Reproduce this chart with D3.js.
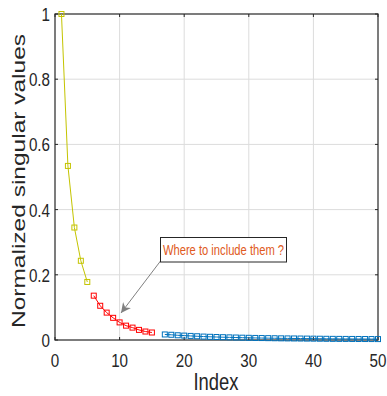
<!DOCTYPE html>
<html>
<head>
<meta charset="utf-8">
<script src="https://cdn.jsdelivr.net/npm/d3@7"></script>
<style>
  body { margin: 0; background: #fff; }
  text { font-family: "Liberation Sans", Arial, sans-serif; fill: #262626; }
</style>
</head>
<body>
<div id="chart"></div>
<script>
// singular values split in three groups
const yellowIdx = [1, 2, 3, 4, 5];
const yellowVals = [1.0, 0.534, 0.345, 0.243, 0.178];

const redIdx = [6, 7, 8, 9, 10, 11, 12, 13, 14, 15];
const redVals = [0.136, 0.105, 0.084, 0.068, 0.054, 0.044, 0.038, 0.031, 0.026, 0.023];

const blueIdx = d3.range(17, 51);
const blueVals = [0.017, 0.016, 0.0145, 0.0135, 0.0125, 0.0115, 0.0105, 0.0098, 0.0092, 0.0086,
  0.0081, 0.0076, 0.0071, 0.0067, 0.0063, 0.0060, 0.0057, 0.0054, 0.0051, 0.0049,
  0.0047, 0.0045, 0.0043, 0.0041, 0.0039, 0.0037, 0.0035, 0.0034, 0.0033, 0.0032,
  0.0031, 0.0030, 0.0029, 0.0028];

const xTicks = [0, 10, 20, 30, 40, 50];
const yTicks = [0, 0.2, 0.4, 0.6, 0.8, 1];

const W = 387, H = 396;
const margin = { top: 14, right: 9, bottom: 56, left: 55 };
const width = W - margin.left - margin.right;
const height = H - margin.top - margin.bottom;
const sx = 0.8; // horizontal squeeze of the glyphs

const svg = d3.select("#chart").append("svg")
  .attr("width", W).attr("height", H);

const g = svg.append("g")
  .attr("transform", `translate(${margin.left},${margin.top})`);

const x = d3.scaleLinear().domain([0, 50]).range([0, width]);
const y = d3.scaleLinear().domain([0, 1]).range([height, 0]);

// grid
g.append("g").selectAll("line").data(xTicks.slice(1, -1)).enter().append("line")
  .attr("x1", d => x(d)).attr("x2", d => x(d))
  .attr("y1", 0).attr("y2", height)
  .attr("stroke", "#dcdcdc").attr("stroke-width", 1);
g.append("g").selectAll("line").data(yTicks.slice(1, -1)).enter().append("line")
  .attr("y1", d => y(d)).attr("y2", d => y(d))
  .attr("x1", 0).attr("x2", width)
  .attr("stroke", "#dcdcdc").attr("stroke-width", 1);

// box + inward ticks
const tl = 3;
g.append("rect").attr("width", width).attr("height", height)
  .attr("fill", "none").attr("stroke", "#262626").attr("stroke-width", 1.2);
xTicks.forEach(t => {
  g.append("line").attr("x1", x(t)).attr("x2", x(t)).attr("y1", height).attr("y2", height - tl).attr("stroke", "#262626");
  g.append("line").attr("x1", x(t)).attr("x2", x(t)).attr("y1", 0).attr("y2", tl).attr("stroke", "#262626");
});
yTicks.forEach(t => {
  g.append("line").attr("y1", y(t)).attr("y2", y(t)).attr("x1", 0).attr("x2", tl).attr("stroke", "#262626");
  g.append("line").attr("y1", y(t)).attr("y2", y(t)).attr("x1", width).attr("x2", width - tl).attr("stroke", "#262626");
});

// tick labels
g.selectAll(".xt").data(xTicks).enter().append("text")
  .attr("transform", d => `translate(${x(d)},${height + 27}) scale(${sx},1)`)
  .attr("text-anchor", "middle")
  .style("font-size", "19px")
  .text(d => d);
g.selectAll(".yt").data(yTicks).enter().append("text")
  .attr("transform", d => `translate(-5,${y(d) + 7}) scale(${sx},1)`)
  .attr("text-anchor", "end")
  .style("font-size", "19px")
  .text(d => d);

// axis titles
svg.append("text")
  .attr("transform", `translate(216,390) scale(${sx},1)`)
  .attr("text-anchor", "middle")
  .style("font-size", "23px")
  .text("Index");
svg.append("text")
  .attr("transform", `translate(25,181) scale(0.78,1) rotate(-90)`)
  .attr("text-anchor", "middle")
  .style("font-size", "24.5px")
  .text("Normalized singular values");

// series
function series(idx, vals, color) {
  const pts = idx.map((d, i) => [d, vals[i]]);
  g.append("path").datum(pts)
    .attr("fill", "none").attr("stroke", color).attr("stroke-width", 1)
    .attr("d", d3.line().x(d => x(d[0])).y(d => y(d[1])));
  const s = 5;
  g.selectAll(null).data(pts).enter().append("rect")
    .attr("x", d => x(d[0]) - s / 2).attr("y", d => y(d[1]) - s / 2)
    .attr("width", s).attr("height", s)
    .attr("fill", "none").attr("stroke", color).attr("stroke-width", 1);
}
series(yellowIdx, yellowVals, "#c4c400");
series(redIdx, redVals, "#ff0000");
series(blueIdx, blueVals, "#0072bd");

// annotation arrow
svg.append("defs").append("marker")
  .attr("id", "arr").attr("viewBox", "0 0 10 10")
  .attr("refX", 10).attr("refY", 5)
  .attr("markerWidth", 10).attr("markerHeight", 10)
  .attr("markerUnits", "userSpaceOnUse")
  .attr("orient", "auto")
  .append("path").attr("d", "M0,0 L10,5 L0,10 L3,5 Z").attr("fill", "#808080");

svg.append("line")
  .attr("x1", 160.5).attr("y1", 261)
  .attr("x2", 121).attr("y2", 313)
  .attr("stroke", "#808080").attr("stroke-width", 1)
  .attr("marker-end", "url(#arr)");

svg.append("rect")
  .attr("x", 160.5).attr("y", 237.5).attr("width", 126).attr("height", 24.5)
  .attr("fill", "#fff").attr("stroke", "#262626").attr("stroke-width", 1);
svg.append("text")
  .attr("transform", `translate(223.5,254.5) scale(0.8,1)`)
  .attr("text-anchor", "middle")
  .style("font-size", "14px")
  .style("fill", "#e05a22")
  .text("Where to include them ?");
</script>
</body>
</html>
